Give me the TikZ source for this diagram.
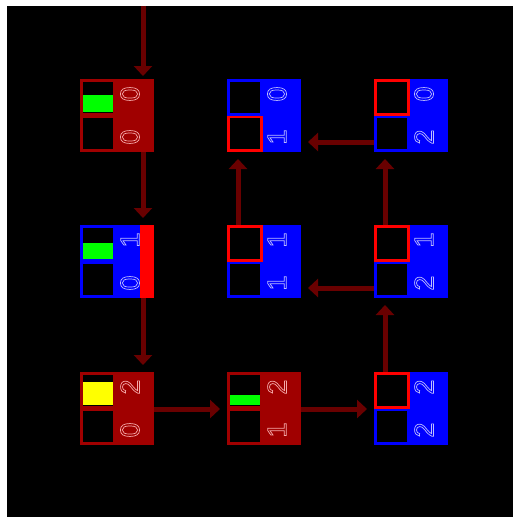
\documentclass[tikz,border=0pt]{standalone}
\usepackage{fontspec}
\setmainfont{Liberation Sans}
\usetikzlibrary{arrows.meta,calc}

\definecolor{cellred}{RGB}{160,0,0}
\definecolor{cellblue}{RGB}{0,0,255}
\definecolor{hot}{RGB}{255,0,0}
\definecolor{link}{RGB}{105,0,0}
\definecolor{lvlgreen}{RGB}{0,255,0}
\definecolor{lvlyellow}{RGB}{255,255,0}
\definecolor{inkred}{RGB}{245,170,170}
\definecolor{inkblue}{RGB}{190,190,255}

% hollow (stroked) glyphs
\newcommand{\outlined}[1]{\special{pdf:literal direct 1 Tr 0.7 w}#1\special{pdf:literal direct 0 Tr}}

\tikzset{
  cellbox/.style={anchor=north west, minimum width=74pt, minimum height=73pt,
                  inner sep=0pt, outer sep=0pt, draw=none},
  slot/.style={line width=3pt, fill=black},
  digit/.style={rotate=90, inner sep=0pt, font=\fontsize{27}{27}\selectfont},
  flow/.style={draw=link, line width=5pt,
               -{Triangle[width=18pt,length=10pt]}}
}

% name, left, top, body colour, upper slot outline, lower slot outline, ink, upper digit, lower digit
\newcommand{\gridcell}[9]{%
  \node[cellbox, fill=#4] (#1) at (#2,#3) {};
  \draw[slot, draw=#6] ($(#1.north west)+(1.5,37.5)$) rectangle +(33,34);
  \draw[slot, draw=#5] ($(#1.north west)+(1.5,1.5)$) rectangle +(33,34);
  \node[digit, text=#7] at ($(#1.north west)+(50,15)$) {\outlined{#8}};
  \node[digit, text=#7] at ($(#1.north west)+(50,58)$) {\outlined{#9}};
}

\begin{document}
\begin{tikzpicture}[x=1pt, y=-1pt]
  \useasboundingbox (0,0) rectangle (520,517);
  \fill[white] (0,0) rectangle (520,517);
  \fill[black] (7,6) rectangle (513,517);

  % cells
  \gridcell{c11}{80}{79}{cellred}{cellred}{cellred}{inkred}{0}{0}
  \gridcell{c12}{227}{79}{cellblue}{cellblue}{hot}{inkblue}{0}{1}
  \gridcell{c13}{374}{79}{cellblue}{hot}{cellblue}{inkblue}{0}{2}
  \gridcell{c21}{80}{225}{cellblue}{cellblue}{cellblue}{inkblue}{1}{0}
  \gridcell{c22}{227}{225}{cellblue}{hot}{cellblue}{inkblue}{1}{1}
  \gridcell{c23}{374}{225}{cellblue}{hot}{cellblue}{inkblue}{1}{2}
  \gridcell{c31}{80}{372}{cellred}{cellred}{cellred}{inkred}{2}{0}
  \gridcell{c32}{227}{372}{cellred}{cellred}{cellred}{inkred}{2}{1}
  \gridcell{c33}{374}{372}{cellblue}{hot}{cellblue}{inkblue}{2}{2}

  % fill levels
  \fill[lvlgreen]  ($(c11.north west)+(3,16)$) rectangle ($(c11.north west)+(33,33)$);
  \fill[lvlgreen]  ($(c21.north west)+(3,18)$) rectangle ($(c21.north west)+(33,34)$);
  \fill[lvlyellow] ($(c31.north west)+(3,10)$) rectangle ($(c31.north west)+(33,33)$);
  \fill[lvlgreen]  ($(c32.north west)+(3,23)$) rectangle ($(c32.north west)+(33,33)$);

  % marker strip
  \fill[hot] ($(c21.north east)+(-14,0)$) rectangle (c21.south east);

  % links
  \coordinate (entry) at (143,6);
  \draw[flow] (entry) -- ($(c11.north west)+(63,-3)$);
  \draw[flow] ($(c11.south west)+(63,0)$) -- ($(c21.north west)+(63,-7)$);
  \draw[flow] ($(c21.south west)+(63,0)$) -- ($(c31.north west)+(63,-7)$);
  \draw[flow] ($(c31.north east)+(0,37)$) -- ($(c32.north west)+(-7,37)$);
  \draw[flow] ($(c32.north east)+(0,37)$) -- ($(c33.north west)+(-7,37)$);
  \draw[flow] ($(c33.north west)+(11,0)$) -- ($(c23.south west)+(11,7)$);
  \draw[flow] ($(c23.north west)+(0,63)$) -- ($(c22.north east)+(7,63)$);
  \draw[flow] ($(c23.north west)+(11,0)$) -- ($(c13.south west)+(11,7)$);
  \draw[flow] ($(c13.north west)+(0,63)$) -- ($(c12.north east)+(7,63)$);
  \draw[flow] ($(c22.north west)+(11,0)$) -- ($(c12.south west)+(11,7)$);
\end{tikzpicture}
\end{document}
